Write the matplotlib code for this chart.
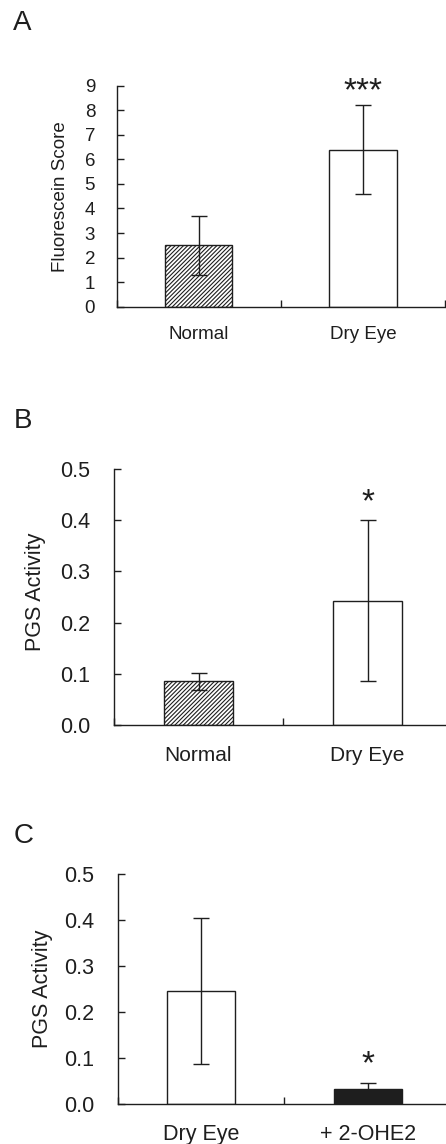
import matplotlib
matplotlib.use("Agg")
import matplotlib.pyplot as plt

plt.rcParams['font.family'] = ['Liberation Sans', 'DejaVu Sans']
plt.rcParams['hatch.linewidth'] = 0.8
plt.rcParams['hatch.color'] = '#222222'

# ---- data ----
a_categories = ["Normal", "Dry Eye"]
a_means = [2.5, 6.4]
a_errs = [1.2, 1.8]
a_sig = ["", "***"]

b_categories = ["Normal", "Dry Eye"]
b_means = [0.085, 0.243]
b_errs = [0.017, 0.158]
b_sig = ["", "*"]

c_categories = ["Dry Eye", "+ 2-OHE2"]
c_means = [0.245, 0.034]
c_errs = [0.158, 0.013]
c_sig = ["", "*"]

a_yticks = [0, 1, 2, 3, 4, 5, 6, 7, 8, 9]
pgs_yticks = [0.0, 0.1, 0.2, 0.3, 0.4, 0.5]

INK = '#1e1e1e'
W, H = 446, 1144
fig = plt.figure(figsize=(W / 100, H / 100), dpi=100)


def px_axes(left, right, bottom, top):
    return fig.add_axes([left / W, 1 - bottom / H, (right - left) / W, (bottom - top) / H])


def panel(ax, cats, means, errs, sig, styles, ylim, yticks, yfmt, ylabel,
          ylab_x, ylab_y, ytick_fs, xtick_fs, ylab_fs, ypad, xpad, star_fs, star_off):
    xs = [0.5 + i for i in range(len(cats))]
    for x, m, e, st in zip(xs, means, errs, styles):
        ax.bar(x, m, width=0.41, color=st['color'], hatch=st['hatch'],
               edgecolor=INK, linewidth=1.0, zorder=2)
        ax.errorbar(x, m, yerr=e, fmt='none', ecolor=INK, elinewidth=1.0,
                    capsize=5.5, capthick=1.0, zorder=3)
    for x, m, e, s in zip(xs, means, errs, sig):
        if s:
            ax.annotate(s, xy=(x, m + e), xytext=(0, star_off), textcoords='offset points',
                        ha='center', va='center', fontsize=star_fs, color=INK)
    ax.set_xlim(0, len(cats))
    ax.set_ylim(*ylim)
    ax.set_yticks(yticks)
    ax.set_yticklabels([yfmt.format(v) for v in yticks])
    ax.set_xticks([0, 1, 2])
    ax.set_xticklabels([])
    ax.set_xticks(xs, minor=True)
    ax.set_xticklabels(cats, minor=True)
    ax.tick_params(axis='x', which='major', direction='in', length=5, width=1.0, color=INK)
    ax.tick_params(axis='x', which='minor', length=0, pad=xpad, labelsize=xtick_fs, labelcolor=INK)
    ax.tick_params(axis='y', direction='in', length=5, width=1.0, color=INK,
                   pad=ypad, labelsize=ytick_fs, labelcolor=INK)
    for side in ['top', 'right']:
        ax.spines[side].set_visible(False)
    for side in ['left', 'bottom']:
        ax.spines[side].set_linewidth(1.0)
        ax.spines[side].set_color(INK)
    ax.set_ylabel(ylabel, fontsize=ylab_fs, color=INK, va='center', ha='center')
    ax.yaxis.set_label_coords(ylab_x, ylab_y)
    ax.set_facecolor('none')


hatched = {'color': 'white', 'hatch': '////////'}
plain = {'color': 'white', 'hatch': None}
solid = {'color': INK, 'hatch': None}

axA = px_axes(116.7, 445, 306.7, 85.7)
panel(axA, a_categories, a_means, a_errs, a_sig, [hatched, plain], (0, 9), a_yticks,
      "{:d}", "Fluorescein Score", -0.17, 0.5, 13.5, 13.5, 13.5, 15.5, 14, 24, 10)

axB = px_axes(114, 452, 725, 469)
panel(axB, b_categories, b_means, b_errs, b_sig, [hatched, plain], (0, 0.5), pgs_yticks,
      "{:.1f}", "PGS Activity", -0.231, 0.52, 15.5, 15, 15.5, 17, 15, 24, 12)

axC = px_axes(117.7, 451, 1104.3, 873.7)
panel(axC, c_categories, c_means, c_errs, c_sig, [plain, solid], (0, 0.5), pgs_yticks,
      "{:.1f}", "PGS Activity", -0.227, 0.5, 15.5, 15.5, 15.5, 17, 14, 24, 13)

for letter, (x, y) in {"A": (22.5, 23), "B": (23.5, 421.5), "C": (24, 836)}.items():
    fig.text(x / W, 1 - y / H, letter, fontsize=20, ha='center', va='center', color=INK)

fig.savefig("out.png", dpi=100)
